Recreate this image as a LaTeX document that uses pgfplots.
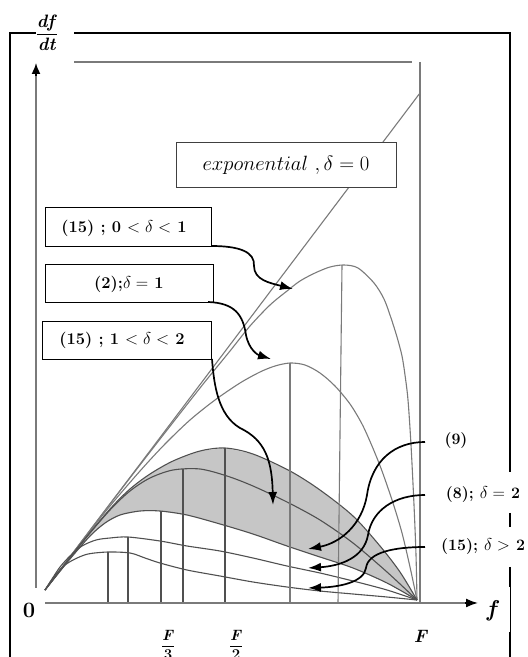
\documentclass[border=0pt]{standalone}
\usepackage{amsmath}
\usepackage{pgfplots}
\pgfplotsset{compat=1.18}
\usetikzlibrary{arrows.meta}

\definecolor{curvehi}{HTML}{7A7A7A}
\definecolor{curvelo}{HTML}{505050}
\definecolor{bandgray}{HTML}{C6C6C6}

\newcommand{\semi}{\symbol{59}}
\newcommand{\bi}[1]{\textbf{\textit{#1}}}

\begin{document}
\begin{tikzpicture}
\begin{axis}[
  width=528bp, height=657bp, scale only axis,
  xmin=0, xmax=528, ymin=0, ymax=657, y dir=reverse,
  hide axis, clip=false,
]
% shaded family 1 < delta < 2
\addplot[fill=bandgray, draw=none] coordinates {
 (45,590) (80,545) (110,509) (130,489) (150,474) (173,461) (200,451) (225,448)
 (253,454) (290,471) (320,490) (353,516) (380,546) (400,572) (417,600)
 (387,583) (353,568) (320,557) (287,546) (253,534) (220,524) (187,515)
 (160,511) (140,511) (120,515) (105,523) (90,536) (70,559) (45,590)};

% exponential growth, delta = 0
\addplot[curvehi, line width=1.1bp] coordinates {(45,590) (420,93)};
% (15), 0 < delta < 1
\addplot[curvehi, line width=1.1bp, smooth] coordinates {
 (45,590) (100,517) (150,452) (200,388) (230,351) (250,326) (270,305) (287,291)
 (300,281) (315,273) (330,267) (344,265) (358,268) (374,283) (384,299) (391,318)
 (397,337) (402,356) (405,375) (408,400) (411,445) (414,505) (416,555) (417,600)};
% (2), delta = 1
\addplot[curvehi, line width=1.1bp, smooth] coordinates {
 (45,590) (80,544) (110,506) (140,471) (165,444) (190,420) (215,400) (240,383)
 (260,372) (275,366) (290,363) (305,365) (320,373) (335,386) (350,404) (362,424)
 (372,446) (382,471) (393,503) (402,533) (410,567) (417,600)};
% upper edge of 1 < delta < 2
\addplot[curvelo, line width=1.1bp, smooth] coordinates {
 (45,590) (80,545) (110,509) (130,489) (150,474) (173,461) (200,451) (225,448)
 (253,454) (290,471) (320,490) (353,516) (380,546) (400,572) (417,600)};
% inside 1 < delta < 2
\addplot[curvelo, line width=1.1bp, smooth] coordinates {
 (45,590) (80,545) (110,510) (130,491) (150,478) (173,470) (200,469) (227,476)
 (253,486) (287,502) (320,520) (353,543) (387,572) (417,600)};
% (9)
\addplot[curvelo, line width=1.1bp, smooth] coordinates {
 (45,590) (70,559) (90,536) (105,523) (120,515) (140,511) (160,511) (187,515)
 (220,524) (253,534) (287,546) (320,557) (353,568) (387,583) (417,600)};
% (8), delta = 2
\addplot[curvelo, line width=1.1bp, smooth] coordinates {
 (45,590) (52,579) (60,567) (70,556) (82,546) (96,540) (110,538) (128,537)
 (160,541) (187,546) (220,551) (253,558) (287,566) (320,573) (353,581) (387,590)
 (417,600)};
% (15), delta > 2
\addplot[curvelo, line width=1.1bp, smooth] coordinates {
 (45,590) (51,581) (57,573) (65,565) (75,559) (88,554) (108,552) (130,553)
 (145,558) (160,563) (187,570) (220,576) (253,582) (287,587) (320,591) (353,594)
 (387,597) (417,600)};

% peak positions
\addplot[curvelo, line width=1.1bp] coordinates {(108,552) (108,603)};
\addplot[curvelo, line width=1.1bp] coordinates {(128,537) (128,603)};
\addplot[curvelo, line width=1.1bp] coordinates {(161,511) (161,603)};
\addplot[curvelo, line width=1.1bp] coordinates {(183,469) (183,603)};
\addplot[curvelo, line width=1.1bp] coordinates {(225,448) (225,603)};
\addplot[curvehi, line width=1.1bp] coordinates {(290,363) (290,603)};
\addplot[curvehi, line width=1.1bp] coordinates {(342,265) (338,603)};
\end{axis}

% annotations, in the same 528 x 657 frame (y measured downwards)
\begin{scope}[x=1bp, y=-1bp, yshift=657bp]
% inner frame and axes
\draw[curvehi, line width=1.6bp] (74,62) -- (412,62);
\draw[curvehi, line width=1.6bp] (420,62) -- (420,603);
\draw[curvehi, line width=1.6bp] (36,588) -- (36,75);
\draw[black, line width=1.6bp, -{Latex[length=11bp,width=9bp]}] (36,76) -- (36,63);
\draw[curvehi, line width=1.6bp] (45,603) -- (466,603);
\draw[black, line width=1.6bp, -{Latex[length=12bp,width=9bp]}] (465,603) -- (478,603);

% outer frame
\draw[black, line width=1.1bp] (10,657) -- (10,33) -- (36,33);
\draw[black, line width=1.1bp] (74,33) -- (510,33) -- (510,472);
\draw[black, line width=1.1bp] (510,513) -- (510,527);
\draw[black, line width=1.1bp] (510,567) -- (510,587);
\draw[black, line width=0.5bp] (510,587) -- (510,632);
\draw[black, line width=1.1bp] (510,632) -- (510,657);

% label boxes
\draw[black!75, line width=0.9bp, fill=white] (176,142) rectangle (396,187);
\node at (286,165) {\fontsize{22}{22}\selectfont $exponential\ ,\delta = 0$};
\draw[black, line width=0.9bp, fill=white] (45,207) rectangle (211,246);
\node at (124,228) {\fontsize{16.5}{16.5}\selectfont\bfseries (15) \semi{} 0 $<\delta<$ 1};
\draw[black, line width=0.9bp, fill=white] (45,264) rectangle (213,302);
\node at (129,284) {\fontsize{16.5}{16.5}\selectfont\bfseries (2)\semi$\delta =$ 1};
\draw[black, line width=0.9bp, fill=white] (42,321) rectangle (211,359);
\node at (122,340) {\fontsize{16.5}{16.5}\selectfont\bfseries (15) \semi{} 1 $<\delta<$ 2};

\node at (456,441) {\fontsize{16}{16}\selectfont\bfseries (9)};
\node at (483,495) {\fontsize{16}{16}\selectfont\bfseries (8)\semi{} $\delta =$ 2};
\node[anchor=west, inner sep=0pt] at (441,547) {\fontsize{16}{16}\selectfont\bfseries (15)\semi{} $\delta >$ 2};

% arrows
\draw[black, line width=1.7bp, -{Latex[length=13bp,width=9bp]}]
  (211,246) .. controls (240,246) and (255,252) .. (254,266)
  .. controls (254,280) and (270,283) .. (293,289);
\draw[black, line width=1.7bp, -{Latex[length=13bp,width=9bp]}]
  (208,302) .. controls (235,303) and (243,315) .. (246,335)
  .. controls (249,350) and (258,355) .. (271,359);
\draw[black, line width=1.7bp, -{Latex[length=13bp,width=9bp]}]
  (212,359) .. controls (214,385) and (218,415) .. (240,428)
  .. controls (265,440) and (272,460) .. (273,505);
\draw[black, line width=1.7bp, -{Latex[length=13bp,width=9bp]}]
  (425,442) .. controls (395,442) and (372,460) .. (367,495)
  .. controls (362,525) and (340,543) .. (308,549);
\draw[black, line width=1.7bp, -{Latex[length=13bp,width=9bp]}]
  (425,495) .. controls (395,495) and (372,510) .. (368,535)
  .. controls (364,558) and (340,566) .. (308,568);
\draw[black, line width=1.7bp, -{Latex[length=13bp,width=9bp]}]
  (425,547) .. controls (395,547) and (368,552) .. (366,568)
  .. controls (364,582) and (340,587) .. (308,588);

% axis labels
\node at (47,33) {\fontsize{18}{18}\selectfont $\displaystyle\frac{\bi{df}}{\bi{dt}}$};
\node[fill=white, inner sep=1bp] at (29,610) {\fontsize{22}{22}\selectfont\bfseries 0};
\node at (493,611) {\fontsize{23}{23}\selectfont\bi{f}};
\node at (421,636) {\fontsize{18}{18}\selectfont\bi{F}};
\node at (168,645) {\fontsize{15}{15}\selectfont $\displaystyle\frac{\bi{F}}{\textbf{3}}$};
\node at (236,645) {\fontsize{15}{15}\selectfont $\displaystyle\frac{\bi{F}}{\textbf{2}}$};
\end{scope}
\pgfresetboundingbox
\useasboundingbox (0,0) rectangle (528bp,657bp);
\end{tikzpicture}
\end{document}
